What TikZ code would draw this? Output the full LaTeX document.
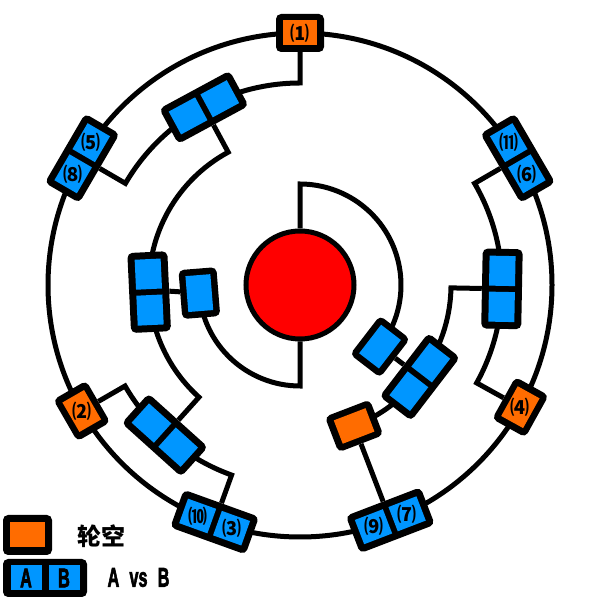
\documentclass[tikz,border=0pt]{standalone}
\usepackage{fontspec}
\setmainfont{Liberation Sans}
\newfontfamily\cjk{Noto Sans CJK SC}
\newfontfamily\heavysans[FakeBold=3]{Liberation Sans}
\usetikzlibrary{calc,backgrounds}
\definecolor{byeorange}{RGB}{255,108,0}
\definecolor{slotblue}{RGB}{0,150,255}
\definecolor{champred}{RGB}{255,0,0}
\tikzset{
  wire/.style={line width=5pt, black},
  outerpair/.style={fill=black, rounded corners=5pt, minimum width=80pt, minimum height=40pt, inner sep=0pt},
  slotcell/.style={fill=slotblue, minimum width=30pt, minimum height=26pt, inner sep=0pt},
  outersingle/.style={fill=black, rounded corners=5pt, minimum width=49pt, minimum height=38pt, inner sep=0pt},
  singlecell/.style={fill=slotblue, minimum width=36pt, minimum height=25pt, inner sep=0pt},
  outerbye/.style={fill=black, rounded corners=5pt, minimum width=48pt, minimum height=38pt, inner sep=0pt},
  byecell/.style={fill=byeorange, minimum width=34pt, minimum height=25pt, inner sep=0pt},
  numlabel/.style={font=\cjk\bfseries\fontsize{19}{19}\selectfont, inner sep=0pt, text=black},
  redhub/.style={circle, fill=champred, draw=black, line width=5pt, minimum size=108pt, inner sep=0pt},
  legendtext/.style={font=\heavysans\bfseries\fontsize{27}{27}\selectfont, inner sep=0pt, text=black},
  cjktext/.style={font=\cjk\bfseries\fontsize{24}{24}\selectfont, inner sep=0pt, text=black},
}
\newcommand\mkpair[3]{%
  \node[outerpair, rotate=#2-90] (#1) at (#2:#3) {};
  \node[slotcell, rotate=#2-90] (#1e) at ($(#1.center)!18pt!(#1.east)$) {};
  \node[slotcell, rotate=#2-90] (#1w) at ($(#1.center)!18pt!(#1.west)$) {};
}
\newcommand\mksingle[3]{%
  \node[outersingle, rotate=#2-90] (#1) at (#2:#3) {};
  \node[singlecell, rotate=#2-90] (#1c) at (#1.center) {};
}
\newcommand\mkbye[3]{%
  \node[outerbye, rotate=#2-90] (#1) at (#2:#3) {};
  \node[byecell, rotate=#2-90] (#1c) at (#1.center) {};
}
\begin{document}
\begin{tikzpicture}[x=1pt,y=1pt]
\useasboundingbox (0,0) rectangle (600,600);
\begin{scope}[shift={(300,315)}]
  \draw[wire] (0,0) circle[radius=252];
  \node[redhub] (hub) at (0,0) {};
  % first round (outer ring)
  \mkbye{o1}{90}{252}
  \mkbye{o2}{210}{252}
  \mkbye{o4}{-29}{252}
  \mkpair{p58}{149.8}{252}
  \mkpair{p116}{30.2}{252}
  \mkpair{p103}{250.2}{252}
  \mkpair{p97}{291}{252}
  % second ring
  \mkpair{pTop}{118.4}{202}
  \mkpair{pLL}{228}{202}
  \mkpair{pR}{-1.1}{202}
  % third ring
  \mkpair{pL}{182.7}{151}
  \mkpair{pLR}{-37.5}{151}
  \mkbye{o9}{-69}{151}
  % semifinal
  \mksingle{sL}{184.6}{101}
  \mksingle{sR}{-37.6}{101}
  % labels
  \node[numlabel] (l1) at (o1) {⑴};
  \node[numlabel] (l2) at (o2) {⑵};
  \node[numlabel] (l4) at (o4) {⑷};
  \node[numlabel] (l5) at (p58e) {⑸};
  \node[numlabel] (l8) at (p58w) {⑻};
  \node[numlabel] (l6) at (p116e) {⑹};
  \node[numlabel] (l11) at (p116w) {⑾};
  \node[numlabel] (l10) at (p103e) {⑽};
  \node[numlabel] (l3) at (p103w) {⑶};
  \node[numlabel] (l9) at (p97e) {⑼};
  \node[numlabel] (l7) at (p97w) {⑺};
  \begin{pgfonlayer}{background}
    \fill[white] (-300,-315) rectangle (300,285);
    \draw[wire] (o1.south) -- (90:202) arc[start angle=90, end angle=118.4, radius=202];
    \draw[wire] (p58.south) -- (149.8:202) arc[start angle=149.8, end angle=118.4, radius=202];
    \draw[wire] (pTop.south) -- (118.4:151) arc[start angle=118.4, end angle=182.7, radius=151];
    \draw[wire] (o2.south) -- (210:202) arc[start angle=210, end angle=228, radius=202];
    \draw[wire] (p103.south) -- (250.2:202) arc[start angle=250.2, end angle=228, radius=202];
    \draw[wire] (pLL.south) -- (228:151) arc[start angle=228, end angle=182.7, radius=151];
    \draw[wire] (pL.south) -- (sL);
    \draw[wire] (sL.center) arc[start angle=184.6, end angle=270, radius=101] -- (hub.south);
    \draw[wire] (p116.south) -- (30.2:202) arc[start angle=30.2, end angle=-1.1, radius=202];
    \draw[wire] (o4.south) -- (-29:202) arc[start angle=-29, end angle=-1.1, radius=202];
    \draw[wire] (pR.south) -- (-1.1:151) arc[start angle=-1.1, end angle=-37.5, radius=151];
    \draw[wire] (p97.south) -- (o9.north);
    \draw[wire] (o9.center) arc[start angle=-69, end angle=-37.5, radius=151];
    \draw[wire] (pLR.south) -- (sR);
    \draw[wire] (sR.center) arc[start angle=-37.6, end angle=90, radius=101] -- (hub.north);
  \end{pgfonlayer}
\end{scope}
% legend
\node[outerbye, minimum width=49pt, minimum height=40pt] (legbye) at (27.5,65) {};
\node[byecell, minimum width=35pt, minimum height=25pt] (legbyec) at (legbye.center) {};
\node[cjktext] (legbyet) at (101,64) {轮空};
\node[outerpair, minimum width=84pt, minimum height=38pt] (legpair) at (45,22) {};
\node[slotcell, minimum width=31pt, minimum height=25pt] (legA) at ($(legpair.center)!19pt!(legpair.west)$) {};
\node[slotcell, minimum width=31pt, minimum height=25pt] (legB) at ($(legpair.center)!19pt!(legpair.east)$) {};
\node[legendtext] (legAt) at (legA) {\scalebox{0.6}[1]{A}};
\node[legendtext] (legBt) at (legB) {\scalebox{0.6}[1]{B}};
\node[legendtext] (legvs) at (138.5,22.5) {\scalebox{0.6}[1]{\spaceskip=17pt A vs B}};
\end{tikzpicture}
\end{document}
